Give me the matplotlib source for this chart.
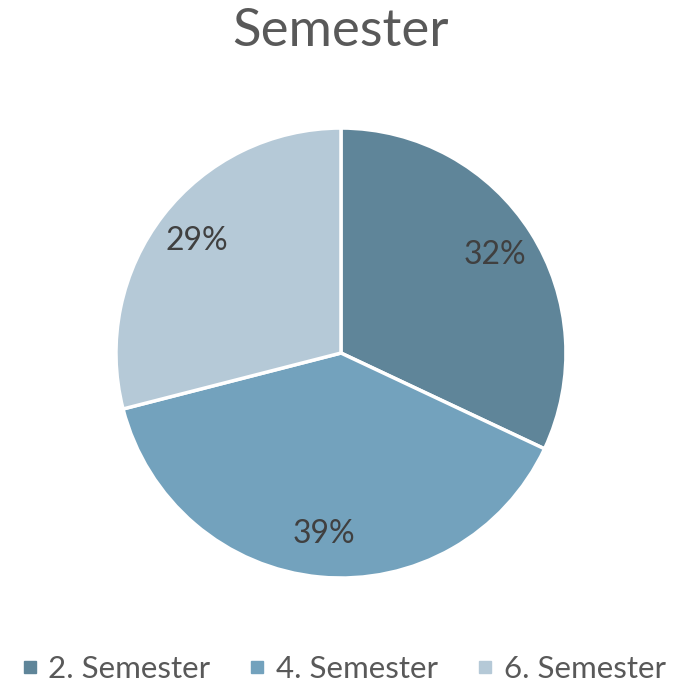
import matplotlib
matplotlib.use("Agg")
from matplotlib import pyplot as plt
from matplotlib.lines import Line2D

labels = ["2. Semester", "4. Semester", "6. Semester"]
shares = [32, 39, 29]
colors = ["#5F8599", "#73A2BD", "#B5C9D7"]

plt.rcParams["font.family"] = ["Lato", "DejaVu Sans"]

fig = plt.figure(figsize=(6.97, 6.91), dpi=100)
ax = fig.add_axes([0.1664, 0.1635, 0.6456, 0.6512])

wedges, texts, autotexts = ax.pie(
    shares,
    colors=colors,
    startangle=90,
    counterclock=False,
    autopct="%1.0f%%",
    pctdistance=0.81,
    wedgeprops={"edgecolor": "white", "linewidth": 2.5},
    textprops={"fontsize": 23, "color": "#404040"},
)
ax.set_xlim(-1, 1)
ax.set_ylim(-1, 1)
ax.set_aspect("equal")

fig.text(0.489, 0.955, "Semester", ha="center", va="center",
         fontsize=38, color="#595959")

handles = [
    Line2D([], [], marker="s", linestyle="none", markersize=8,
           markerfacecolor=c, markeredgecolor=c)
    for c in colors
]
fig.legend(
    handles, labels,
    loc="center", bbox_to_anchor=(0.49, 0.032),
    ncol=3, frameon=False, fontsize=22.5,
    handletextpad=0.2, columnspacing=1.1, handlelength=0.8,
    labelcolor="#595959",
)

fig.savefig("out.png", dpi=100)
